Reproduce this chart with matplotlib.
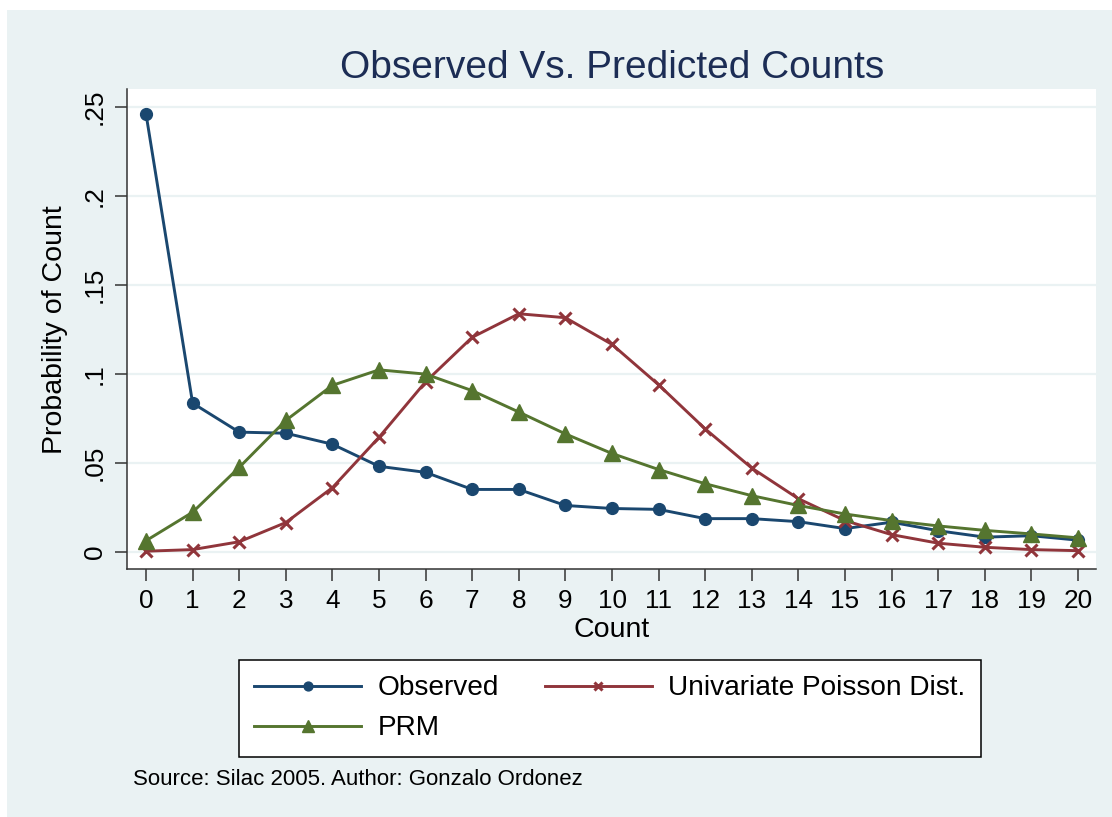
import matplotlib
matplotlib.use("Agg")
import matplotlib.pyplot as plt
from matplotlib.patches import Rectangle

counts = list(range(21))
observed = [0.246, 0.0835, 0.0672, 0.0666, 0.0604, 0.048, 0.0446, 0.035, 0.035, 0.026,
            0.0243, 0.0238, 0.0186, 0.0186, 0.0169, 0.013, 0.0166, 0.0118, 0.0082, 0.009, 0.0065]
poisson = [0.0003, 0.0012, 0.0056, 0.0164, 0.036, 0.0643, 0.0955, 0.1205, 0.1337, 0.1315,
           0.1165, 0.0938, 0.069, 0.047, 0.0298, 0.0175, 0.0096, 0.0048, 0.0025, 0.0012, 0.0006]
prm = [0.0062, 0.0222, 0.0474, 0.0738, 0.0935, 0.1022, 0.0998, 0.0905, 0.0785, 0.0662,
       0.0552, 0.0462, 0.0382, 0.0315, 0.026, 0.0212, 0.0175, 0.0145, 0.0120, 0.0100, 0.0078]
yticks = [0, 0.05, 0.10, 0.15, 0.20, 0.25]
ytick_labels = ["0", ".05", ".1", ".15", ".2", ".25"]

NAVY = "#1a476f"
MAROON = "#90353b"
GREEN = "#55752f"
BG = "#eaf2f3"

plt.rcParams['font.family'] = ['Liberation Sans', 'DejaVu Sans']

W, H = 1112, 817
fig = plt.figure(figsize=(W / 100, H / 100), dpi=100, facecolor="white")
fig.patches.append(Rectangle((7 / W, 0), 1 - 7 / W, 1 - 10 / H, transform=fig.transFigure,
                             facecolor=BG, edgecolor="none", zorder=-10))

L, R, T, B = 127, 1096, 89, 569
ax = fig.add_axes([L / W, 1 - B / H, (R - L) / W, (B - T) / H])
ax.set_facecolor("white")

ax.set_xlim(-0.408, 20.386)
ax.set_ylim(-0.0097, 0.260)

for y in yticks:
    ax.axhline(y, color=BG, lw=1.6, zorder=0)

l1, = ax.plot(counts, observed, color=NAVY, lw=2.1, marker="o", markersize=8.5, label="Observed", zorder=3)
l2, = ax.plot(counts, poisson, color=MAROON, lw=2.1, marker="x", markersize=8, mew=2.2,
              label="Univariate Poisson Dist.", zorder=3)
l3, = ax.plot(counts, prm, color=GREEN, lw=2.1, marker="^", markersize=11.5, label="PRM", zorder=3)

for s in ["top", "right"]:
    ax.spines[s].set_visible(False)
for s in ["left", "bottom"]:
    ax.spines[s].set_color("#333333")
    ax.spines[s].set_linewidth(1.1)

ax.set_xticks(counts)
ax.set_xticklabels([str(c) for c in counts])
ax.set_yticks(yticks)
ax.set_yticklabels(ytick_labels, rotation=90, va="center")
ax.tick_params(axis="both", direction="out", length=8.5, width=1.1, color="#333333",
               labelsize=18.8, labelcolor="black")
ax.tick_params(axis="x", pad=6)
ax.tick_params(axis="y", pad=6)

fig.text(612 / W, 1 - 78 / H, "Observed Vs. Predicted Counts", ha="center", va="baseline",
         fontsize=28, color="#1c2d55")
fig.text(612 / W, 1 - 630 / H, "Count", ha="center", va="center", fontsize=20.5, color="black")
fig.text(55 / W, 1 - 330 / H, "Probability of Count", ha="center", va="center", rotation=90,
         fontsize=20.5, color="black")
fig.text(133 / W, 1 - 785 / H, "Source: Silac 2005. Author: Gonzalo Ordonez", ha="left",
         va="baseline", fontsize=16, color="black")

leg = fig.legend([l1, l3, l2], ["Observed", "PRM", "Univariate Poisson Dist."],
                 loc="upper left",
                 bbox_to_anchor=(239 / W, 1 - 752 / H, (981 - 239) / W, (752 - 660) / H),
                 ncol=2, mode="expand", frameon=True, fancybox=False, fontsize=20.2,
                 handlelength=3.8, handletextpad=0.6, labelspacing=0.5, borderpad=0.55,
                 markerscale=0.75, borderaxespad=0, framealpha=1.0)
leg.get_frame().set_edgecolor("black")
leg.get_frame().set_linewidth(1.1)
leg.get_frame().set_facecolor("white")

fig.savefig("out.png", dpi=100, facecolor=fig.get_facecolor())
